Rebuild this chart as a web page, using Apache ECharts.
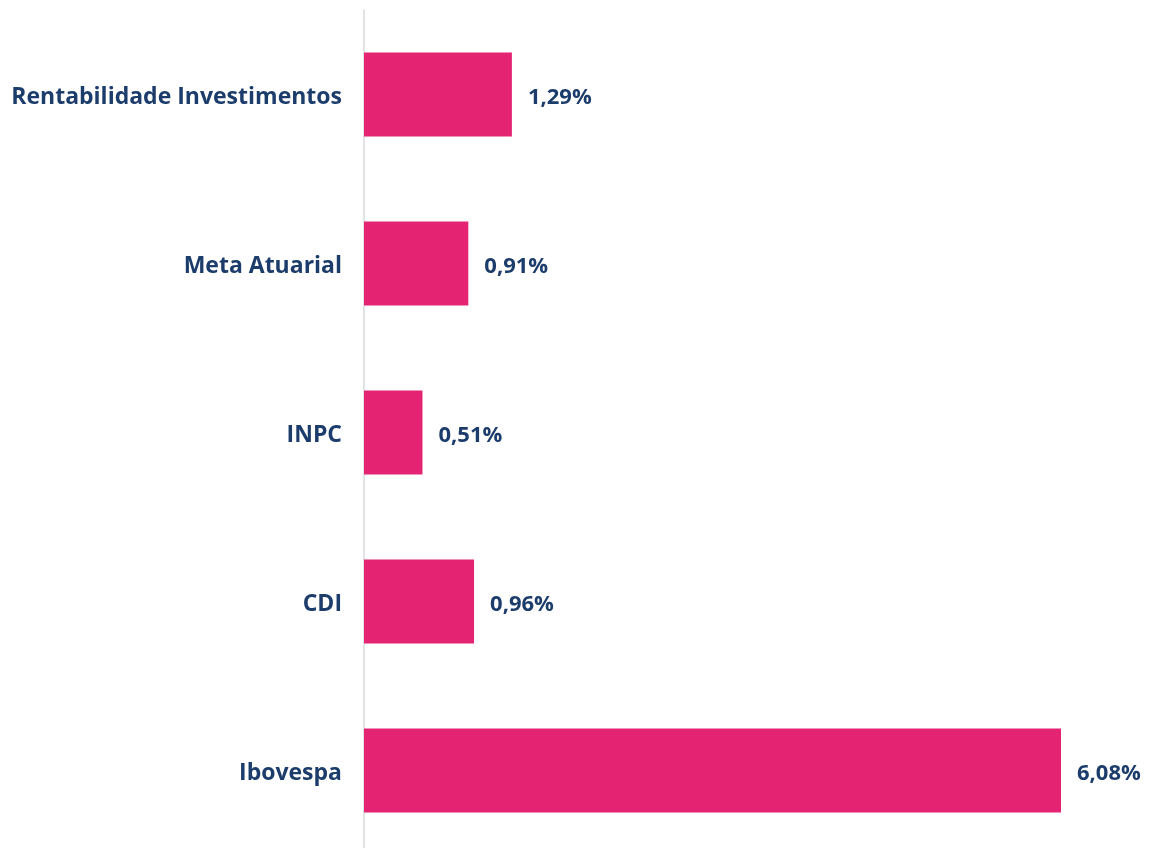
<!DOCTYPE html>
<html>
<head>
<meta charset="utf-8">
<script src="https://cdn.jsdelivr.net/npm/echarts@6/dist/echarts.min.js"></script>
<style>
html,body{margin:0;padding:0;background:#fff;}
#main{width:1152px;height:848px;}
</style>
</head>
<body>
<div id="main"></div>
<script>
var categories = ['Rentabilidade Investimentos', 'Meta Atuarial', 'INPC', 'CDI', 'Ibovespa'];
var values = [1.29, 0.91, 0.51, 0.96, 6.08];

var myChart = echarts.init(document.getElementById('main'));
var option = {
	animation: false,
	grid: {
		left: 364,
		top: 10,
		width: 697,
		height: 845,
		outerBoundsMode: 'none'
	},
	xAxis: {
		type: 'value',
		min: 0,
		max: 6.08,
		show: false
	},
	yAxis: {
		type: 'category',
		data: categories,
		inverse: true,
		axisLine: {show: true, lineStyle: {color: '#e3e3e3', width: 2}},
		axisTick: {show: false},
		axisLabel: {
			margin: 22,
			formatter: function(v){ return '{a|' + v + '}'; },
			rich: {
				a: {
					color: '#1c3d6b',
					fontFamily: 'Open Sans',
					fontWeight: 'bold',
					fontSize: 23,
					padding: [6, 0, 0, 0]
				}
			}
		}
	},
	series: [{
		type: 'bar',
		data: values,
		barWidth: 84,
		itemStyle: {color: '#e42373'},
		label: {
			show: true,
			position: 'right',
			distance: 16,
			offset: [0, 3],
			color: '#1c3d6b',
			fontFamily: 'Open Sans',
			fontWeight: 'bold',
			fontSize: 22,
			formatter: function(p){
				return p.value.toFixed(2).replace('.', ',') + '%';
			}
		}
	}]
};
myChart.setOption(option);
</script>
</body>
</html>
